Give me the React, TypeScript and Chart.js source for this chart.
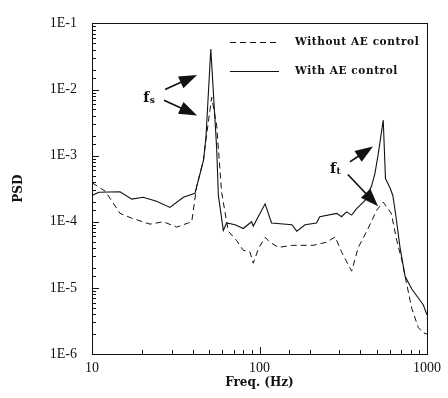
import React, { useEffect, useRef } from 'react';
import { Chart, registerables } from 'chart.js';

Chart.register(...registerables);

// PSD spectra, frequency in Hz
const freqWithout = [10, 12, 14.7, 17.3, 22.2, 26.7, 32, 37.6, 39.4, 42.2, 46.3, 48, 51.8, 55.5, 59.4, 65.1, 73, 80, 87.7, 91.8, 98.4, 108, 115.6, 129.5, 158, 209, 251, 283, 309, 355, 389, 437, 501, 548, 612, 660, 708, 760, 811, 888, 950, 1000];
const psdWithout = [3.9e-4, 2.9e-4, 1.34e-4, 1.13e-4, 9.2e-5, 1.0e-4, 8.3e-5, 9.6e-5, 1.0e-4, 3.5e-4, 8.5e-4, 1.8e-3, 7.6e-3, 2.9e-3, 2.8e-4, 7.2e-5, 5.2e-5, 3.7e-5, 3.5e-5, 2.36e-5, 3.9e-5, 5.8e-5, 4.9e-5, 4.1e-5, 4.4e-5, 4.4e-5, 4.9e-5, 5.9e-5, 3.5e-5, 1.79e-5, 4.1e-5, 7.2e-5, 1.5e-4, 1.98e-4, 1.34e-4, 5.2e-5, 2.6e-5, 1.08e-5, 4.9e-6, 2.5e-6, 2.1e-6, 2.0e-6];

const freqWith = [10, 11, 14.7, 17.3, 20.2, 24.3, 29.2, 35.1, 41.2, 44.2, 46.3, 47.9, 51.2, 55.5, 56.8, 60.8, 63.6, 71.5, 80, 89.7, 91.8, 108, 118, 156, 167, 187, 219, 229, 289, 309, 331, 355, 380, 427, 467, 489, 512, 548, 565, 600, 625, 650, 690, 740, 811, 908, 951, 1000];
const psdWith = [2.5e-4, 2.8e-4, 2.85e-4, 2.2e-4, 2.35e-4, 2.05e-4, 1.65e-4, 2.35e-4, 2.7e-4, 5.4e-4, 8.5e-4, 1.9e-3, 4.1e-2, 1.3e-3, 2.5e-4, 7.4e-5, 9.6e-5, 9.0e-5, 7.9e-5, 1.0e-4, 8.6e-5, 1.87e-4, 9.6e-5, 9.0e-5, 7.2e-5, 9.0e-5, 9.6e-5, 1.19e-4, 1.34e-4, 1.19e-4, 1.41e-4, 1.26e-4, 1.58e-4, 2.1e-4, 3.5e-4, 5.4e-4, 1.07e-3, 3.44e-3, 4.5e-4, 3.3e-4, 2.5e-4, 1.3e-4, 4.1e-5, 1.5e-5, 9.6e-6, 6.5e-6, 5.5e-6, 3.9e-6];

const seriesNames = ['Without AE control', 'With AE control'];
const xTickLabels = ['10', '100', '1000'];
const yTickLabels = ['1E-6', '1E-5', '1E-4', '1E-3', '1E-2', '1E-1'];
const xTitle = 'Freq. (Hz)';
const yTitle = 'PSD';

// Peak callouts in data units: [frequency, PSD]
const calloutLabels = [
  { main: 'f', sub: 's', at: [20.2, 6.46e-3] },
  { main: 'f', sub: 't', at: [263.6, 5.37e-4] },
];
const calloutArrows = [
  { from: [27.3, 1.0e-2], to: [42.4, 1.66e-2] },
  { from: [26.9, 6.9e-3], to: [42.4, 4.04e-3] },
  { from: [346.6, 8.04e-4], to: [476, 1.38e-3] },
  { from: [337, 5.19e-4], to: [510, 1.71e-4] },
];

const INK = '#111';
const DASH = [6, 4];

const isDecade = (v: number) => Math.abs(Math.log10(v) - Math.round(Math.log10(v))) < 1e-6;

function drawArrow(ctx: CanvasRenderingContext2D, x1: number, y1: number, x2: number, y2: number) {
  const ang = Math.atan2(y2 - y1, x2 - x1);
  const headLen = 18;
  const halfW = 6.5;
  const bx = x2 - headLen * Math.cos(ang);
  const by = y2 - headLen * Math.sin(ang);
  ctx.beginPath();
  ctx.moveTo(x1, y1);
  ctx.lineTo(bx + 2 * Math.cos(ang), by + 2 * Math.sin(ang));
  ctx.lineWidth = 1.7;
  ctx.stroke();
  ctx.beginPath();
  ctx.moveTo(x2, y2);
  ctx.lineTo(bx + halfW * Math.sin(ang), by - halfW * Math.cos(ang));
  ctx.lineTo(bx - halfW * Math.sin(ang), by + halfW * Math.cos(ang));
  ctx.closePath();
  ctx.fill();
}

const decorations = {
  id: 'decorations',
  afterDatasetsDraw(chart: any) {
    const { ctx, chartArea: a, scales } = chart;
    const xs = scales.x;
    const ys = scales.y;
    ctx.save();
    ctx.strokeStyle = INK;
    ctx.fillStyle = INK;
    ctx.lineWidth = 1;
    ctx.setLineDash([]);

    // frame
    ctx.strokeRect(Math.round(a.left) + 0.5, Math.round(a.top) + 0.5, Math.round(a.right - a.left), Math.round(a.bottom - a.top));

    // inward tick marks on left and bottom axes
    ctx.beginPath();
    ys.ticks.forEach((t: any) => {
      const py = Math.round(ys.getPixelForValue(t.value)) + 0.5;
      const len = isDecade(t.value) ? 7 : 4;
      ctx.moveTo(a.left, py);
      ctx.lineTo(a.left + len, py);
    });
    xs.ticks.forEach((t: any) => {
      const px = Math.round(xs.getPixelForValue(t.value)) + 0.5;
      const len = isDecade(t.value) ? 7 : 4;
      ctx.moveTo(px, a.bottom);
      ctx.lineTo(px, a.bottom - len);
    });
    ctx.stroke();

    // legend
    const lx = a.left + 138;
    const ly = a.top + 19;
    const rowGap = 29;
    ctx.font = 'bold 10.5px "DejaVu Serif"';
    (ctx as any).letterSpacing = '0.6px';
    ctx.textBaseline = 'middle';
    ctx.textAlign = 'left';
    seriesNames.forEach((name, i) => {
      const y = Math.round(ly + i * rowGap) + 0.5;
      ctx.setLineDash(i === 0 ? DASH : []);
      ctx.lineWidth = 1;
      ctx.beginPath();
      ctx.moveTo(lx, y);
      ctx.lineTo(lx + (i === 0 ? 47 : 49), y);
      ctx.stroke();
      ctx.setLineDash([]);
      ctx.fillText(name, lx + 65, y);
    });
    (ctx as any).letterSpacing = '0px';

    // callouts
    calloutArrows.forEach((ar) => {
      drawArrow(
        ctx,
        xs.getPixelForValue(ar.from[0]), ys.getPixelForValue(ar.from[1]),
        xs.getPixelForValue(ar.to[0]), ys.getPixelForValue(ar.to[1])
      );
    });
    ctx.textBaseline = 'alphabetic';
    calloutLabels.forEach((lb) => {
      const px = xs.getPixelForValue(lb.at[0]);
      const py = ys.getPixelForValue(lb.at[1]);
      ctx.font = 'bold 14px "DejaVu Serif"';
      ctx.fillText(lb.main, px, py);
      const w = ctx.measureText(lb.main).width;
      ctx.font = 'bold 9px "DejaVu Serif"';
      ctx.fillText(lb.sub, px + w + 0.5, py + 1);
    });
    ctx.restore();
  },
};

export default function App() {
  const canvasRef = useRef<HTMLCanvasElement | null>(null);

  useEffect(() => {
    const canvas = canvasRef.current;
    if (!canvas) return;
    const chart = new Chart(canvas, {
      type: 'line',
      data: {
        datasets: [
          {
            label: seriesNames[0],
            data: freqWithout.map((f, i) => ({ x: f, y: psdWithout[i] })),
            borderColor: INK,
            borderWidth: 1,
            borderDash: DASH,
            pointRadius: 0,
            tension: 0,
            fill: false,
          },
          {
            label: seriesNames[1],
            data: freqWith.map((f, i) => ({ x: f, y: psdWith[i] })),
            borderColor: INK,
            borderWidth: 1.1,
            pointRadius: 0,
            tension: 0,
            fill: false,
          },
        ],
      },
      options: {
        animation: false,
        responsive: false,
        devicePixelRatio: 1,
        layout: { padding: { left: 0, right: 21, top: 12, bottom: 0 } },
        plugins: { legend: { display: false }, tooltip: { enabled: false }, title: { display: false } },
        scales: {
          x: {
            type: 'logarithmic',
            min: 10,
            max: 1000,
            grid: { display: false, drawTicks: false },
            border: { display: false },
            afterFit: (s: any) => { s.height = 44; },
            ticks: {
              autoSkip: false,
              maxRotation: 0,
              padding: 6,
              color: INK,
              font: { family: '"Liberation Serif"', size: 14 },
              callback: (v: any) => {
                const n = Number(v);
                if (!isDecade(n)) return '';
                return xTickLabels[Math.round(Math.log10(n)) - 1] ?? '';
              },
            },
            title: {
              display: true,
              text: xTitle,
              color: INK,
              font: { family: '"DejaVu Serif"', size: 12, weight: 'bold' },
              padding: { top: 0, bottom: 8 },
            },
          },
          y: {
            type: 'logarithmic',
            min: 1e-6,
            max: 1e-1,
            grid: { display: false, drawTicks: false },
            border: { display: false },
            afterFit: (s: any) => { s.width = 92; },
            ticks: {
              autoSkip: false,
              padding: 15,
              color: INK,
              font: { family: '"Liberation Serif"', size: 14 },
              callback: (v: any) => {
                const n = Number(v);
                if (!isDecade(n)) return '';
                return yTickLabels[Math.round(Math.log10(n)) + 6] ?? '';
              },
            },
            title: {
              display: true,
              text: yTitle,
              color: INK,
              font: { family: '"DejaVu Serif"', size: 12, weight: 'bold' },
              padding: { top: 12, bottom: 0 },
            },
          },
        },
      },
      plugins: [decorations],
    } as any);
    return () => chart.destroy();
  }, []);

  return (
    <div style={{ position: 'absolute', left: 0, top: 0, width: 448, height: 398, background: '#fff' }}>
      <canvas ref={canvasRef} width={448} height={398} style={{ display: 'block' }} />
    </div>
  );
}
